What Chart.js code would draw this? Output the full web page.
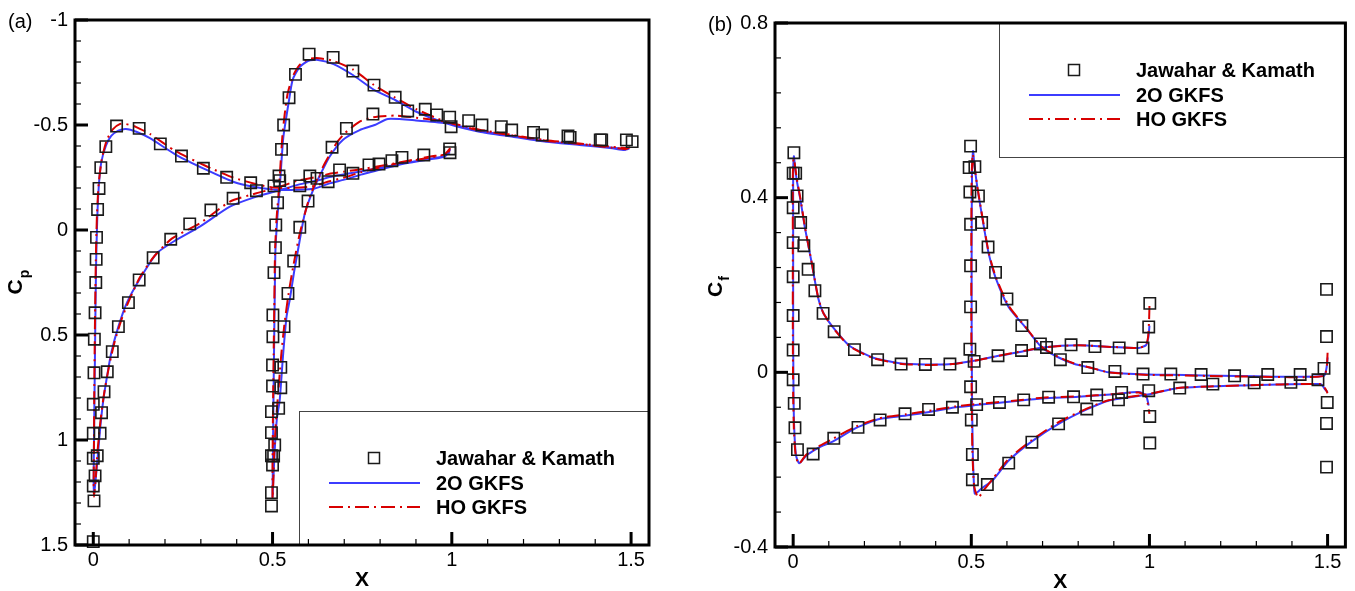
<!DOCTYPE html>
<html>
<head>
<meta charset="utf-8">
<script src="https://cdn.jsdelivr.net/npm/chart.js@4.4.0/dist/chart.umd.min.js"></script>
<style>
  html, body { margin: 0; padding: 0; background: #fff; overflow: hidden; }
  #wrap { position: relative; width: 1355px; height: 591px; }
  .panel { position: absolute; top: 0; height: 591px; }
  #pa { left: 0; width: 677px; }
  #pb { left: 677px; width: 678px; }
  canvas { display: block; }
</style>
</head>
<body>
<div id="wrap">
  <div class="panel" id="pa"><canvas id="cpChart"></canvas></div>
  <div class="panel" id="pb"><canvas id="cfChart"></canvas></div>
</div>
<script>
// ---- axis ticks ----
const xTicks = [0, 0.5, 1, 1.5];
const cpTicks = [-1, -0.5, 0, 0.5, 1, 1.5];
const cfTicks = [-0.4, 0, 0.4, 0.8];
const seriesNames = ['Jawahar & Kamath', '2O GKFS', 'HO GKFS'];

// ---- pressure coefficient, reference data [x, Cp] ----
const cpJawahar = [
  [0.007,0.25],[0.008,0.14],[0.009,0.035],[0.012,-0.098],[0.016,-0.198],[0.021,-0.297],[0.035,-0.397],
  [0.065,-0.495],[0.128,-0.484],[0.187,-0.41],[0.246,-0.352],[0.307,-0.294],[0.372,-0.251],[0.439,-0.225],
  [0.455,-0.187],[0.005,0.394],[0.003,0.52],[0.002,0.68],[0.0,0.83],[0.0,0.968],[0.0,1.087],[0.005,1.171],
  [0.0,1.219],[0.002,1.29],[0.0,1.484],
  [0.011,1.075],[0.019,0.968],[0.023,0.87],[0.03,0.77],[0.039,0.675],[0.053,0.579],[0.07,0.46],[0.098,0.346],
  [0.128,0.238],[0.167,0.132],[0.216,0.044],[0.269,-0.029],[0.328,-0.095],[0.39,-0.151],
  [0.604,-0.257],[0.624,-0.246],[0.576,-0.21],[0.655,-0.23],[0.687,-0.286],[0.724,-0.27],
  [0.769,-0.31],[0.797,-0.314],[0.833,-0.33],[0.861,-0.346],[0.922,-0.357],[0.994,-0.386],[0.995,-0.368],
  [0.602,-0.837],[0.669,-0.822],[0.564,-0.741],[0.546,-0.63],[0.531,-0.5],[0.525,-0.384],[0.518,-0.257],
  [0.52,-0.235],[0.504,-0.21],[0.514,-0.13],[0.509,-0.024],[0.508,0.084],[0.504,0.203],
  [0.501,0.405],[0.501,0.508],[0.5,0.643],[0.5,0.743],[0.497,0.865],[0.497,0.965],[0.497,1.075],[0.5,1.119],
  [0.497,1.251],[0.497,1.314],
  [0.503,1.076],[0.506,1.024],[0.517,0.849],[0.523,0.751],[0.523,0.654],[0.532,0.46],[0.543,0.302],
  [0.559,0.148],[0.576,-0.013],[0.599,-0.138],[0.666,-0.394],[0.706,-0.484],[0.78,-0.552],
  [0.724,-0.757],[0.783,-0.69],[0.842,-0.632],[0.877,-0.567],[0.926,-0.575],[0.958,-0.548],[0.994,-0.537],
  [0.998,-0.492],[1.047,-0.521],[1.084,-0.5],[1.138,-0.492],[1.167,-0.476],[1.228,-0.465],[1.252,-0.452],
  [1.324,-0.448],[1.33,-0.441],[1.414,-0.429],[1.418,-0.429],[1.487,-0.429],[1.503,-0.421]
];

// ---- pressure coefficient, 2O GKFS (trailing edge -> leading edge -> trailing edge) ----
const cp2oFront = [
  [0.996,-0.385],[0.98,-0.35],[0.94,-0.337],[0.85,-0.31],[0.75,-0.265],[0.7,-0.24],[0.659,-0.222],
  [0.613,-0.196],[0.55,-0.19],[0.5,-0.193],[0.446,-0.206],[0.39,-0.23],[0.316,-0.286],[0.232,-0.357],
  [0.158,-0.437],[0.12,-0.468],[0.091,-0.481],[0.07,-0.473],[0.05,-0.448],[0.035,-0.4],[0.022,-0.32],
  [0.015,-0.2],[0.011,-0.05],[0.008,0.15],[0.006,0.4],[0.004,0.7],[0.002,1.0],[0.001,1.2],[0.002,1.262],
  [0.006,1.2],[0.014,1.048],[0.02,0.93],[0.028,0.81],[0.04,0.68],[0.051,0.579],[0.07,0.46],[0.093,0.349],
  [0.128,0.238],[0.177,0.111],[0.223,0.056],[0.297,-0.016],[0.381,-0.111],[0.455,-0.159],[0.511,-0.185],
  [0.57,-0.215],[0.631,-0.238],[0.659,-0.252],[0.7,-0.265],[0.75,-0.28],[0.85,-0.312],[0.94,-0.34],
  [0.98,-0.352],[0.995,-0.37]
];
const cp2oRear = [
  [1.495,-0.389],[1.481,-0.381],[1.448,-0.389],[1.356,-0.405],[1.263,-0.42],[1.17,-0.444],[1.077,-0.468],
  [0.984,-0.508],[0.901,-0.563],[0.842,-0.619],[0.783,-0.667],[0.724,-0.738],[0.67,-0.79],[0.627,-0.81],
  [0.6,-0.806],[0.575,-0.775],[0.556,-0.715],[0.546,-0.619],[0.53,-0.44],[0.52,-0.2],[0.513,-0.05],
  [0.508,0.1],[0.506,0.333],[0.504,0.6],[0.502,0.9],[0.501,1.1],[0.5,1.27],
  [0.502,1.2],[0.506,1.05],[0.512,0.9],[0.52,0.81],[0.529,0.603],[0.539,0.413],[0.548,0.333],[0.56,0.2],
  [0.571,0.095],[0.59,-0.079],[0.613,-0.19],[0.635,-0.27],[0.659,-0.349],[0.696,-0.429],[0.743,-0.476],
  [0.785,-0.5],[0.822,-0.529],[0.9,-0.522],[0.984,-0.508],[1.077,-0.472],[1.17,-0.448],[1.263,-0.423],
  [1.356,-0.408],[1.448,-0.392],[1.49,-0.385],[1.495,-0.389]
];

// ---- pressure coefficient, HO GKFS ----
const cpHoFront = [
  [0.996,-0.39],[0.98,-0.36],[0.94,-0.345],[0.85,-0.318],[0.75,-0.277],[0.7,-0.25],[0.659,-0.232],
  [0.61,-0.208],[0.55,-0.2],[0.5,-0.203],[0.45,-0.22],[0.39,-0.25],[0.32,-0.3],[0.23,-0.375],
  [0.16,-0.455],[0.12,-0.49],[0.09,-0.505],[0.075,-0.505],[0.055,-0.48],[0.038,-0.43],[0.024,-0.34],
  [0.015,-0.22],[0.01,-0.06],[0.007,0.15],[0.005,0.4],[0.003,0.7],[0.002,1.0],[0.001,1.2],[0.002,1.27],
  [0.006,1.2],[0.012,1.05],[0.02,0.91],[0.03,0.78],[0.045,0.64],[0.06,0.53],[0.08,0.42],[0.1,0.335],
  [0.13,0.225],[0.17,0.125],[0.22,0.04],[0.3,-0.035],[0.381,-0.135],[0.455,-0.175],[0.51,-0.2],
  [0.57,-0.235],[0.631,-0.255],[0.659,-0.268],[0.7,-0.278],[0.75,-0.29],[0.85,-0.32],[0.94,-0.35],
  [0.98,-0.36],[0.995,-0.38]
];
const cpHoRear = [
  [1.497,-0.395],[1.485,-0.385],[1.448,-0.392],[1.356,-0.41],[1.263,-0.425],[1.17,-0.45],[1.077,-0.475],
  [0.984,-0.515],[0.901,-0.575],[0.842,-0.63],[0.783,-0.69],[0.724,-0.765],[0.67,-0.805],[0.63,-0.818],
  [0.6,-0.815],[0.575,-0.785],[0.556,-0.73],[0.541,-0.64],[0.528,-0.46],[0.518,-0.2],[0.511,-0.05],
  [0.507,0.1],[0.505,0.333],[0.503,0.6],[0.501,0.9],[0.5,1.1],[0.5,1.28],
  [0.502,1.2],[0.505,1.05],[0.51,0.9],[0.517,0.75],[0.524,0.6],[0.533,0.45],[0.545,0.3],[0.558,0.17],
  [0.576,0.016],[0.604,-0.159],[0.641,-0.302],[0.678,-0.413],[0.701,-0.46],[0.743,-0.516],[0.78,-0.537],
  [0.845,-0.545],[0.9,-0.535],[0.984,-0.515],[1.077,-0.478],[1.17,-0.452],[1.263,-0.428],[1.356,-0.412],
  [1.448,-0.396],[1.49,-0.39],[1.497,-0.395]
];

// ---- skin friction coefficient, reference data [x, Cf] ----
const cfJawahar = [
  [0.002,0.503],[0.0,0.456],[0.007,0.456],[0.011,0.404],[0.0,0.377],[0.021,0.343],[0.0,0.297],[0.03,0.29],
  [0.0,0.219],[0.042,0.236],[0.061,0.187],[0.0,0.13],[0.0,0.051],[0.0,-0.017],[0.003,-0.071],[0.005,-0.127],
  [0.012,-0.177],[0.056,-0.187],[0.114,-0.151],[0.182,-0.126],[0.244,-0.109],[0.314,-0.095],[0.38,-0.085],
  [0.447,-0.08],[0.515,-0.074],[0.579,-0.069],[0.647,-0.063],[0.717,-0.057],[0.787,-0.056],[0.852,-0.052],
  [0.922,-0.046],[0.913,-0.063],[0.998,-0.042],[1.001,-0.101],[1.001,-0.162],
  [0.084,0.135],[0.115,0.093],[0.172,0.052],[0.237,0.029],[0.303,0.019],[0.371,0.018],[0.44,0.019],
  [0.508,0.025],[0.575,0.038],[0.641,0.05],[0.694,0.065],[0.711,0.057],[0.78,0.063],[0.847,0.059],
  [0.915,0.056],[0.982,0.056],[0.998,0.104],[1.001,0.158],
  [0.498,0.518],[0.494,0.469],[0.51,0.471],[0.496,0.413],[0.52,0.404],[0.498,0.339],[0.529,0.343],
  [0.547,0.287],[0.498,0.244],[0.568,0.229],[0.6,0.168],[0.498,0.15],[0.642,0.107],[0.496,0.053],
  [0.75,0.029],[0.827,0.011],[0.903,0.002],[0.982,-0.004],[1.06,-0.004],[1.145,-0.005],[1.239,-0.008],
  [1.332,-0.005],[1.423,-0.005],[1.49,0.009],[1.497,0.082],[1.497,0.19],
  [0.498,-0.033],[0.5,-0.109],[0.503,-0.188],[0.503,-0.246],[0.545,-0.257],[0.605,-0.208],[0.67,-0.16],
  [0.745,-0.118],[0.824,-0.084],[1.085,-0.036],[1.178,-0.027],[1.294,-0.024],[1.397,-0.023],[1.473,-0.017],
  [1.499,-0.069],[1.497,-0.117],[1.497,-0.217]
];

// ---- skin friction coefficient, 2O GKFS ----
const cf2oFront = [
  [1.0,0.107],[0.997,0.08],[0.99,0.062],[0.97,0.056],[0.9,0.058],[0.8,0.062],[0.7,0.057],[0.633,0.046],
  [0.577,0.038],[0.512,0.027],[0.447,0.019],[0.372,0.018],[0.298,0.021],[0.223,0.034],[0.158,0.061],
  [0.112,0.103],[0.084,0.137],[0.07,0.171],[0.051,0.255],[0.033,0.331],[0.021,0.392],[0.01,0.44],
  [0.004,0.48],[0.002,0.495],[0.0,0.45],[0.0,0.3],[0.0,0.1],[0.001,-0.05],[0.003,-0.13],[0.008,-0.19],
  [0.017,-0.208],[0.035,-0.192],[0.056,-0.18],[0.075,-0.171],[0.112,-0.158],[0.177,-0.127],[0.242,-0.107],
  [0.317,-0.099],[0.382,-0.091],[0.456,-0.08],[0.512,-0.075],[0.633,-0.065],[0.7,-0.06],[0.8,-0.056],
  [0.9,-0.05],[0.97,-0.045],[0.99,-0.052],[0.998,-0.076]
];
const cf2oRear = [
  [1.5,0.034],[1.497,0.01],[1.49,-0.008],[1.4,-0.01],[1.3,-0.009],[1.2,-0.008],[1.1,-0.006],[0.996,-0.005],
  [0.885,0.0],[0.838,0.01],[0.79,0.019],[0.745,0.034],[0.698,0.057],[0.652,0.103],[0.605,0.149],
  [0.568,0.217],[0.549,0.271],[0.531,0.354],[0.517,0.423],[0.508,0.48],[0.505,0.507],[0.502,0.45],
  [0.501,0.3],[0.501,0.1],[0.502,-0.05],[0.504,-0.18],[0.507,-0.25],[0.51,-0.278],[0.53,-0.265],
  [0.559,-0.248],[0.605,-0.202],[0.67,-0.158],[0.745,-0.118],[0.824,-0.085],[0.885,-0.065],[0.996,-0.051],
  [1.08,-0.036],[1.257,-0.03],[1.48,-0.027],[1.494,-0.04],[1.5,-0.045]
];

// ---- skin friction coefficient, HO GKFS ----
const cfHoFront = [
  [1.0,0.152],[0.999,0.12],[0.996,0.08],[0.99,0.062],[0.97,0.056],[0.9,0.058],[0.8,0.062],[0.7,0.057],
  [0.633,0.047],[0.577,0.038],[0.512,0.027],[0.447,0.019],[0.372,0.017],[0.298,0.02],[0.223,0.033],
  [0.158,0.06],[0.112,0.102],[0.084,0.137],[0.07,0.172],[0.051,0.256],[0.033,0.333],[0.021,0.395],
  [0.01,0.445],[0.004,0.48],[0.001,0.49],[-0.001,0.45],[-0.001,0.3],[-0.001,0.1],[0.0,-0.05],
  [0.002,-0.13],[0.007,-0.19],[0.016,-0.21],[0.035,-0.19],[0.056,-0.178],[0.075,-0.168],[0.112,-0.152],
  [0.177,-0.124],[0.242,-0.105],[0.317,-0.096],[0.382,-0.088],[0.456,-0.078],[0.512,-0.073],[0.633,-0.064],
  [0.7,-0.058],[0.8,-0.055],[0.9,-0.05],[0.97,-0.046],[0.99,-0.055],[0.997,-0.08],[1.0,-0.095]
];
const cfHoRear = [
  [1.5,0.045],[1.498,0.015],[1.49,-0.008],[1.4,-0.011],[1.3,-0.01],[1.2,-0.009],[1.1,-0.007],[0.996,-0.006],
  [0.885,0.0],[0.838,0.01],[0.79,0.02],[0.745,0.035],[0.698,0.058],[0.652,0.104],[0.605,0.152],
  [0.568,0.22],[0.549,0.274],[0.531,0.356],[0.517,0.425],[0.508,0.478],[0.504,0.5],[0.501,0.45],
  [0.5,0.3],[0.5,0.1],[0.501,-0.05],[0.503,-0.18],[0.508,-0.26],[0.519,-0.287],[0.535,-0.27],
  [0.559,-0.245],[0.605,-0.198],[0.67,-0.155],[0.745,-0.114],[0.824,-0.083],[0.885,-0.064],[0.996,-0.05],
  [1.08,-0.036],[1.257,-0.03],[1.48,-0.027],[1.494,-0.038],[1.5,-0.048]
];

// ---- styling ----
const FONT = "'Liberation Sans', Arial, Helvetica, sans-serif";
const BLUE = '#3c3cff';
const RED = '#d80000';
const RED_DASH = [13, 5, 2, 5];

const toPts = arr => arr.map(([x, y]) => ({ x, y }));

function lineSet(data, color, dash, order) {
  return {
    data: toPts(data), showLine: true, borderColor: color, borderWidth: 2,
    borderDash: dash, pointRadius: 0, fill: false, tension: 0.2, order
  };
}
function markerSet(data) {
  return {
    data: toPts(data), showLine: false, pointStyle: 'rect', pointRadius: 8,
    pointBorderColor: '#1a1a1a', pointBackgroundColor: 'rgba(0,0,0,0)', pointBorderWidth: 1.6,
    clip: false, order: 0
  };
}

// frame, inward ticks, titles and in-plot legend
const decorPlugin = {
  id: 'decor',
  afterDraw(chart, args, o) {
    const { ctx, chartArea: a, scales: { x, y } } = chart;
    ctx.save();

    // legend box
    const bx = a.left + 224, bw = a.right - bx, bh = 134;
    const by = o.legendAt === 'top' ? a.top : a.bottom - bh;
    ctx.fillStyle = '#fff';
    ctx.fillRect(bx, by, bw, bh);
    ctx.strokeStyle = '#444';
    ctx.lineWidth = 1;
    ctx.strokeRect(bx + 0.5, by + 0.5, bw, bh);
    const rows = [by + 47, by + 72, by + 96];
    ctx.lineWidth = 1.5;
    ctx.strokeStyle = '#1a1a1a';
    ctx.strokeRect(bx + 75 - 5.5, rows[0] - 5.5, 11, 11);
    ctx.lineWidth = 2.2;
    ctx.strokeStyle = BLUE;
    ctx.beginPath(); ctx.moveTo(bx + 30, rows[1]); ctx.lineTo(bx + 121, rows[1]); ctx.stroke();
    ctx.strokeStyle = RED;
    ctx.setLineDash([14, 5, 2, 5]);
    ctx.beginPath(); ctx.moveTo(bx + 30, rows[2]); ctx.lineTo(bx + 121, rows[2]); ctx.stroke();
    ctx.setLineDash([]);
    ctx.fillStyle = '#000';
    ctx.font = 'bold 20px ' + FONT;
    ctx.textBaseline = 'middle';
    ctx.textAlign = 'left';
    seriesNames.forEach((n, i) => ctx.fillText(n, bx + 137, rows[i] + 1));

    // inward ticks
    ctx.strokeStyle = '#000';
    const tickY = (v, len, w) => {
      const p = y.getPixelForValue(v);
      ctx.lineWidth = w; ctx.beginPath(); ctx.moveTo(a.left, p); ctx.lineTo(a.left + len, p); ctx.stroke();
    };
    const tickX = (v, len, w) => {
      const p = x.getPixelForValue(v);
      ctx.lineWidth = w; ctx.beginPath(); ctx.moveTo(p, a.bottom); ctx.lineTo(p, a.bottom - len); ctx.stroke();
    };
    const yMaj = o.yTicks, yStep = o.yMinor;
    for (let k = 0; yMaj[0] + k * yStep <= yMaj[yMaj.length - 1] + 1e-9; k++) {
      const v = yMaj[0] + k * yStep;
      if (!yMaj.some(m => Math.abs(m - v) < 1e-6)) tickY(v, 6, 1.2);
    }
    yMaj.forEach(v => tickY(v, 13, 3));
    for (let k = 0; k <= 15; k++) {
      const v = k / 10;
      if (!xTicks.some(m => Math.abs(m - v) < 1e-6)) tickX(v, 6, 1.2);
    }
    xTicks.forEach(v => tickX(v, 13, 3));

    // frame
    ctx.lineWidth = 3;
    ctx.strokeRect(a.left, a.top, a.right - a.left, a.bottom - a.top);

    // panel tag
    ctx.font = '20px ' + FONT;
    ctx.textAlign = 'left';
    ctx.textBaseline = 'middle';
    ctx.fillText(o.tag, a.left - 67, a.top + 2);

    // x title
    ctx.font = 'bold 21px ' + FONT;
    ctx.textAlign = 'center';
    ctx.fillText('X', (a.left + a.right) / 2, a.bottom + 35);

    // y title with subscript, rotated
    ctx.save();
    ctx.translate(a.left - 53, (a.top + a.bottom) / 2 + 12);
    ctx.rotate(-Math.PI / 2);
    ctx.textAlign = 'left';
    ctx.textBaseline = 'alphabetic';
    ctx.font = 'bold 21px ' + FONT;
    ctx.fillText('C', 0, 0);
    const w = ctx.measureText('C').width;
    ctx.font = 'bold 14px ' + FONT;
    ctx.fillText(o.sub, w + 1, 7);
    ctx.restore();

    ctx.restore();
  }
};

function makeChart(id, cfg) {
  return new Chart(document.getElementById(id), {
    type: 'scatter',
    data: {
      datasets: [
        markerSet(cfg.ref),
        lineSet(cfg.hoFront, RED, RED_DASH, 1),
        lineSet(cfg.hoRear, RED, RED_DASH, 1),
        lineSet(cfg.oFront, BLUE, [], 2),
        lineSet(cfg.oRear, BLUE, [], 2)
      ]
    },
    options: {
      responsive: true,
      maintainAspectRatio: false,
      animation: false,
      events: [],
      layout: { padding: { left: 0, right: cfg.padRight, top: cfg.padTop, bottom: 0 } },
      scales: {
        x: {
          type: 'linear', min: -0.051, max: 1.55,
          grid: { display: false, drawTicks: false, tickLength: 0 }, border: { display: false },
          afterBuildTicks: s => { s.ticks = xTicks.map(v => ({ value: v })); },
          afterFit: s => { s.height = cfg.xHeight; },
          ticks: { color: '#000', font: { family: FONT, size: 20 }, padding: 3, maxRotation: 0,
                   autoSkip: false, callback: v => String(v) }
        },
        y: {
          type: 'linear', min: cfg.yMin, max: cfg.yMax, reverse: cfg.reverse,
          grid: { display: false, drawTicks: false, tickLength: 0 }, border: { display: false },
          afterBuildTicks: s => { s.ticks = cfg.yTicks.map(v => ({ value: v })); },
          afterFit: s => { s.width = cfg.yWidth; },
          ticks: { color: '#000', font: { family: FONT, size: 20 }, padding: 7,
                   autoSkip: false, callback: v => String(v) }
        }
      },
      plugins: {
        legend: { display: false },
        tooltip: { enabled: false },
        decor: { tag: cfg.tag, sub: cfg.sub, legendAt: cfg.legendAt, yTicks: cfg.yTicks, yMinor: cfg.yMinor }
      }
    },
    plugins: [decorPlugin]
  });
}

makeChart('cpChart', {
  ref: cpJawahar, oFront: cp2oFront, oRear: cp2oRear, hoFront: cpHoFront, hoRear: cpHoRear,
  yMin: -1, yMax: 1.5, reverse: true, yTicks: cpTicks, yMinor: 0.1,
  tag: '(a)', sub: 'p', legendAt: 'bottom',
  padRight: 28, padTop: 20, xHeight: 46, yWidth: 75
});
makeChart('cfChart', {
  ref: cfJawahar, oFront: cf2oFront, oRear: cf2oRear, hoFront: cfHoFront, hoRear: cfHoRear,
  yMin: -0.4, yMax: 0.8, reverse: false, yTicks: cfTicks, yMinor: 0.08,
  tag: '(b)', sub: 'f', legendAt: 'top',
  padRight: 5, padTop: 23, xHeight: 44, yWidth: 98
});
</script>
</body>
</html>
